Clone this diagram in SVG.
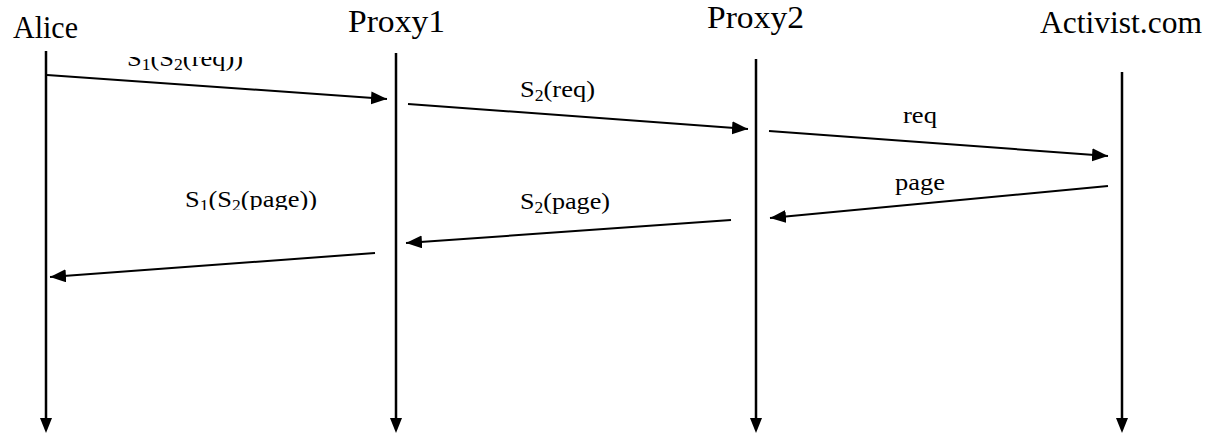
<svg xmlns="http://www.w3.org/2000/svg" width="1217" height="435" viewBox="0 0 1217 435">
<style>
.hdr{font-family:"Liberation Serif",serif;font-size:31px;fill:#000}
.lbl{font-family:"Liberation Serif",serif;font-size:24px;fill:#000}
.sub{font-size:16px}
.life{stroke:#000;stroke-width:2.5;fill:none}
.msg{stroke:#000;stroke-width:2;fill:none;marker-end:url(#ah)}
</style>
<defs>
<marker id="ah" markerUnits="userSpaceOnUse" markerWidth="17" markerHeight="14" refX="16" refY="6.5" orient="auto">
<path d="M0,0 L16,6.5 L0,13 z" fill="#000"/>
</marker>
<clipPath id="clipTop"><rect x="0" y="57" width="1217" height="378"/></clipPath>
<clipPath id="clipBot"><rect x="0" y="0" width="1217" height="210"/></clipPath>
</defs>
<g id="alice">
<text class="hdr" x="13" y="38" textLength="65" lengthAdjust="spacingAndGlyphs">Alice</text>
<line class="life" x1="46" y1="51" x2="46" y2="420"/>
<path d="M40,418 L52,418 L46,433 z" fill="#000"/>
</g>
<g id="proxy1">
<text class="hdr" x="348" y="32" textLength="97" lengthAdjust="spacingAndGlyphs">Proxy1</text>
<line class="life" x1="396" y1="53" x2="396" y2="420"/>
<path d="M390,418 L402,418 L396,433 z" fill="#000"/>
</g>
<g id="proxy2">
<text class="hdr" x="707" y="28" textLength="97" lengthAdjust="spacingAndGlyphs">Proxy2</text>
<line class="life" x1="756" y1="59" x2="756" y2="420"/>
<path d="M750,418 L762,418 L756,433 z" fill="#000"/>
</g>
<g id="activist">
<text class="hdr" x="1040" y="33" textLength="162" lengthAdjust="spacingAndGlyphs">Activist.com</text>
<line class="life" x1="1122" y1="72" x2="1122" y2="420"/>
<path d="M1116,418 L1128,418 L1122,433 z" fill="#000"/>
</g>
<g id="connectors">
<line class="msg" x1="47" y1="75" x2="387" y2="99"/>
<line class="msg" x1="408" y1="104" x2="748" y2="129"/>
<line class="msg" x1="769" y1="131" x2="1108" y2="156"/>
<line class="msg" x1="1108" y1="186" x2="770" y2="218"/>
<line class="msg" x1="731" y1="220" x2="406" y2="243"/>
<line class="msg" x1="375" y1="253" x2="50" y2="277"/>
</g>
<g id="labels">
<text class="lbl" x="127" y="66" clip-path="url(#clipTop)" textLength="116" lengthAdjust="spacingAndGlyphs">S<tspan class="sub" dy="4">1</tspan><tspan dy="-4">(S</tspan><tspan class="sub" dy="4">2</tspan><tspan dy="-4">(req))</tspan></text>
<text class="lbl" x="520" y="97" textLength="75" lengthAdjust="spacingAndGlyphs">S<tspan class="sub" dy="4">2</tspan><tspan dy="-4">(req)</tspan></text>
<text class="lbl" x="903" y="123" textLength="34" lengthAdjust="spacingAndGlyphs">req</text>
<text class="lbl" x="895" y="190" textLength="50" lengthAdjust="spacingAndGlyphs">page</text>
<text class="lbl" x="520" y="209" textLength="90" lengthAdjust="spacingAndGlyphs">S<tspan class="sub" dy="4">2</tspan><tspan dy="-4">(page)</tspan></text>
<text class="lbl" x="185" y="207" clip-path="url(#clipBot)" textLength="132" lengthAdjust="spacingAndGlyphs">S<tspan class="sub" dy="4">1</tspan><tspan dy="-4">(S</tspan><tspan class="sub" dy="4">2</tspan><tspan dy="-4">(page))</tspan></text>
</g>
</svg>
